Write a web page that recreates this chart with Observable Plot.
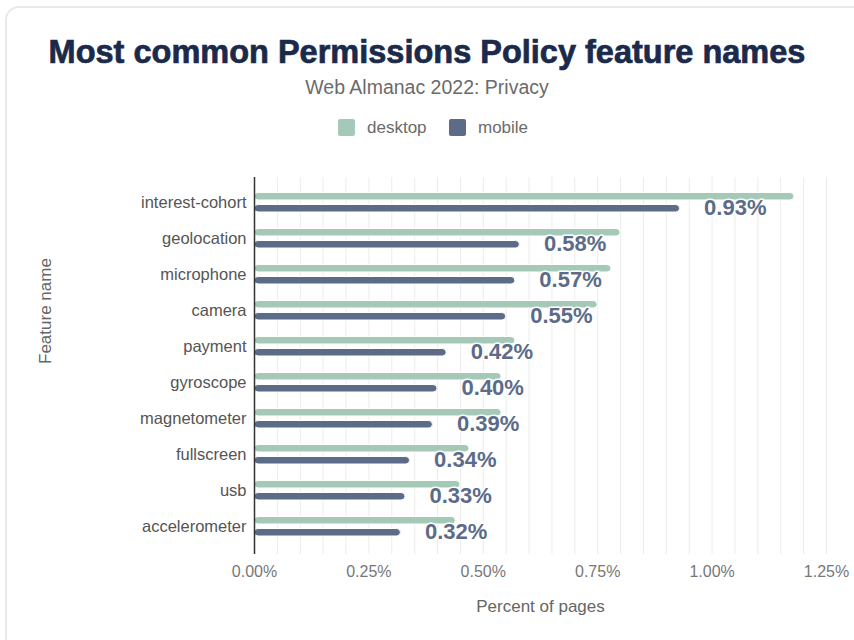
<!DOCTYPE html>
<html>
<head>
<meta charset="utf-8">
<script src="https://cdn.jsdelivr.net/npm/d3@7"></script>
<script src="https://cdn.jsdelivr.net/npm/@observablehq/plot@0.6"></script>
<style>
  html, body { margin: 0; padding: 0; background: #fff; width: 854px; height: 640px; overflow: hidden; }
  body { font-family: "Liberation Sans", Arial, Helvetica, sans-serif; position: relative; }
  #card { position: absolute; left: 5px; top: 6px; width: 900px; height: 700px; border: 2px solid #e9e9e9; border-radius: 14px; box-sizing: border-box; }
  #title { position: absolute; left: 0; width: 854px; top: 32px; text-align: center; font-size: 32.5px; font-weight: bold; color: #1b2a4a; line-height: 40px; -webkit-text-stroke: 0.7px #1b2a4a; }
  #subtitle { position: absolute; left: 0; width: 854px; top: 75px; text-align: center; font-size: 19.5px; color: #6b6b6b; line-height: 24px; }
  #legend { position: absolute; left: 0; width: 854px; top: 116px; height: 24px; }
  .sw { position: absolute; top: 3px; width: 17px; height: 17px; border-radius: 2px; }
  .lt { position: absolute; top: 0; font-size: 17px; line-height: 23px; color: #6b6b6b; }
  #chart { position: absolute; left: 0; top: 160px; }
  #chart svg { display: block; }
</style>
</head>
<body>
<div id="card"></div>
<div id="title">Most common Permissions Policy feature names</div>
<div id="subtitle">Web Almanac 2022: Privacy</div>
<div id="legend"></div>
<div id="chart"></div>
<script>
const features = ["interest-cohort", "geolocation", "microphone", "camera", "payment", "gyroscope", "magnetometer", "fullscreen", "usb", "accelerometer"];
const desktopValues = [1.18, 0.80, 0.78, 0.75, 0.57, 0.54, 0.54, 0.47, 0.45, 0.44];
const mobileValues = [0.93, 0.58, 0.57, 0.55, 0.42, 0.40, 0.39, 0.34, 0.33, 0.32];
const seriesNames = ["desktop", "mobile"];
const seriesColors = ["#a5c9b7", "#5b6b88"];
const xTicks = [0, 0.25, 0.5, 0.75, 1.0, 1.25];
const gridTicks = d3.range(0, 1.2501, 0.05);

const desktop = features.map((f, i) => ({feature: f, value: desktopValues[i]}));
const mobile = features.map((f, i) => ({feature: f, value: mobileValues[i]}));

// legend
const legend = document.getElementById("legend");
const legendPos = [[338, 367], [449, 478]];
seriesNames.forEach((s, i) => {
  const sw = document.createElement("div");
  sw.className = "sw"; sw.style.left = legendPos[i][0] + "px"; sw.style.background = seriesColors[i];
  const t = document.createElement("div");
  t.className = "lt"; t.style.left = legendPos[i][1] + "px"; t.textContent = s;
  legend.appendChild(sw); legend.appendChild(t);
});

const chart = Plot.plot({
  width: 854,
  height: 480,
  marginLeft: 254,
  marginRight: 28,
  marginTop: 19,
  marginBottom: 92,
  style: {fontFamily: "'Liberation Sans', Arial, sans-serif", fontSize: "16px", color: "#666", background: "transparent"},
  x: {domain: [0, 1.25]},
  y: {domain: features, padding: 0},
  marks: [
    Plot.ruleX(gridTicks, {stroke: "#ececec", strokeWidth: 1, insetTop: -2, insetBottom: -6}),
    Plot.barX(desktop, {x: "value", y: "feature", fill: seriesColors[0], stroke: "white", strokeWidth: 1, rx: 4, insetTop: 8.5, insetBottom: 20}),
    Plot.barX(mobile, {x: "value", y: "feature", fill: seriesColors[1], stroke: "white", strokeWidth: 1, rx: 4, insetTop: 20.5, insetBottom: 8}),
    Plot.ruleX([0], {stroke: "#333", strokeWidth: 1.5, insetTop: -2, insetBottom: -6}),
    Plot.text(mobile, {x: "value", y: "feature", text: d => d.value.toFixed(2) + "%", dx: 24, dy: 5, textAnchor: "start", fill: seriesColors[1], stroke: "white", strokeWidth: 3, paintOrder: "stroke", fontWeight: "bold", fontSize: 22}),
    Plot.axisX({ticks: xTicks, tickFormat: d => d.toFixed(2) + "%", tickSize: 0, tickPadding: 17, fontSize: 16, color: "#777", label: null}),
    Plot.axisY({tickSize: 0, tickPadding: 8, fontSize: 16.5, color: "#555", label: null}),
    Plot.text(["Percent of pages"], {frameAnchor: "bottom", dy: 63, fontSize: 17, fill: "#666"}),
    Plot.text(["Feature name"], {frameAnchor: "left", dx: -209, rotate: -90, fontSize: 17, fill: "#666"})
  ]
});
document.getElementById("chart").appendChild(chart);
</script>
</body>
</html>
